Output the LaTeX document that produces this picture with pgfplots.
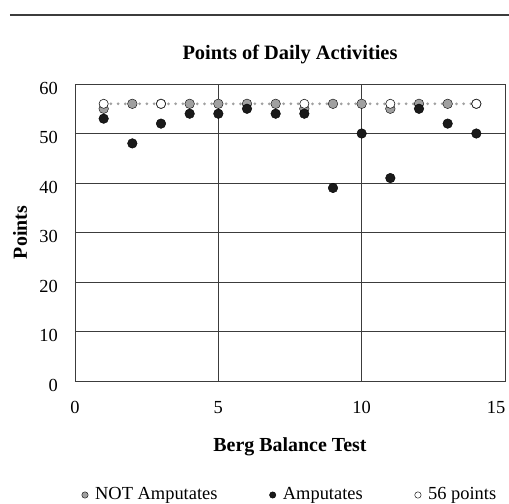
\documentclass[border=0pt]{standalone}
\usepackage{fontspec}
\setmainfont{Liberation Serif}
\usepackage{pgfplots}
\pgfplotsset{compat=1.18}
\definecolor{ptgrey}{HTML}{A0A0A0}
\definecolor{ptblack}{HTML}{1A1A1A}
\definecolor{gridc}{HTML}{3C3C3C}
\begin{document}
\fontsize{18.5}{22}\selectfont
\begin{tikzpicture}
\path[use as bounding box] (-75bp,-123bp) rectangle (434bp,381bp);
\draw[gridc, line width=1.2bp] (-65bp,366bp) -- (434bp,366bp);
\begin{axis}[
  at={(0,0)}, anchor=south west,
  width=430bp, height=297bp, scale only axis,
  xmin=0, xmax=15, ymin=0, ymax=60,
  xtick={0,5,10}, ytick={0,10,20,30,40,50,60},
  extra x ticks={15},
  extra x tick style={xticklabel style={xshift=-9bp}},
  major tick length=0pt,
  axis line style={gridc, line width=0.9bp},
  grid=major,
  major grid style={gridc, line width=0.9bp},
  /pgf/number format/assume math mode=true,
  tick label style={font=\fontsize{18.5}{22}\selectfont},
  xticklabel style={anchor=base, yshift=-32.5bp},
  yticklabel style={anchor=east, inner sep=0pt, xshift=-17bp, yshift=-4bp},
  title={\textbf{Points of Daily Activities}},
  title style={at={(0.5,1)}, anchor=center, yshift=24bp, font=\fontsize{20.5}{24}\selectfont},
  xlabel={\textbf{Berg Balance Test}},
  xlabel style={at={(axis description cs:0.5,0)}, anchor=center, yshift=-66bp, font=\fontsize{20}{24}\selectfont},
  ylabel={\textbf{Points}},
  ylabel style={at={(axis description cs:-0.128,0.5)}, anchor=center, font=\fontsize{20}{24}\selectfont},
  legend columns=3,
  legend style={at={(0.5,0)}, anchor=center, yshift=-114bp, draw=none, fill=none,
    font=\fontsize{18.5}{22}\selectfont,
    /tikz/every even column/.append style={column sep=50bp}},
  legend image code/.code={\draw[#1] plot coordinates {(0bp,0bp)};},
  clip=false,
]
\addplot[only marks, mark=*, mark size=4.8bp, draw=none, fill=ptgrey, forget plot] coordinates {
(1,55) (2,56) (3,56) (4,56) (5,56) (6,56) (7,56) (8,55) (9,56) (10,56) (11,55) (12,56) (13,56) (14,56)};
\addplot[only marks, mark=*, mark size=4.8bp, draw=none, fill=ptblack, forget plot] coordinates {
(1,53) (2,48) (3,52) (4,54) (5,54) (6,55) (7,54) (8,54) (9,39) (10,50) (11,41) (12,55) (13,52) (14,50)};
\addplot[ptgrey, line width=3bp, line cap=round, dash pattern=on 0bp off 7.2bp,
  mark=*, mark indices={1,3,8,11,14}, mark size=4.6bp,
  mark options={solid, draw=ptblack, fill=white, line width=0.6bp}, forget plot] coordinates {
(1,56) (2,56) (3,56) (4,56) (5,56) (6,56) (7,56) (8,56) (9,56) (10,56) (11,56) (12,56) (13,56) (14,56)};
\addlegendimage{only marks, mark=*, mark size=3.2bp, draw=none, fill=ptgrey}
\addlegendentry{\hspace{5bp}NOT Amputates}
\addlegendimage{only marks, mark=*, mark size=3.2bp, draw=none, fill=ptblack}
\addlegendentry{\hspace{5bp}Amputates}
\addlegendimage{only marks, mark=*, mark size=3.2bp, draw=ptblack, fill=white, line width=0.5bp}
\addlegendentry{\hspace{5bp}56 points}
\end{axis}
\end{tikzpicture}
\end{document}
